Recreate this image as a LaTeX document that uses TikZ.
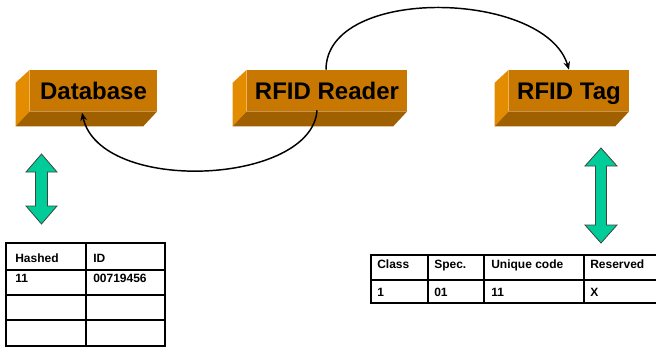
\documentclass[tikz,border=0pt]{standalone}
\usepackage{fontspec}
\setmainfont{Liberation Sans}
\usetikzlibrary{arrows.meta}
\definecolor{frontc}{RGB}{200,120,0}
\definecolor{leftc}{RGB}{228,140,0}
\definecolor{botc}{RGB}{160,96,0}
\definecolor{greenc}{RGB}{0,204,153}
\definecolor{greenline}{RGB}{60,70,60}
\begin{document}
\begin{tikzpicture}[x=0.75pt,y=-0.75pt,
  frontface/.style={fill=frontc, inner sep=0pt, minimum height=41*0.75pt,
    text height=13pt, text depth=0pt, font=\bfseries\fontsize{18}{20}\selectfont},
  leftface/.style={fill=leftc},
  botface/.style={fill=botc},
  conn/.style={line width=1.1pt, -{Stealth[length=6pt,width=5pt]}},
  greenarrow/.style={fill=greenc, draw=greenline, line width=0.6pt, line join=miter},
  outer/.style={line width=2pt},
  inner/.style={line width=0.9pt},
  cell/.style={anchor=base west, inner sep=0pt, font=\bfseries\fontsize{9}{10}\selectfont}
]
\useasboundingbox (0,0) rectangle (656,347);

% 3D boxes
\node[frontface, minimum width=127*0.75pt] (db) at (93.5,90.5) {Database};
\node[frontface, minimum width=160*0.75pt] (rd) at (327,90.5) {RFID Reader};
\node[frontface, minimum width=120*0.75pt] (tg) at (569,90.5) {RFID Tag};
\foreach \n in {db,rd,tg}{
  \fill[leftface] ([shift={(-14,13)}]\n.north west) -- (\n.north west) -- (\n.south west)
     -- ([shift={(-14,15)}]\n.south west) -- cycle;
  \fill[botface] (\n.south west) -- (\n.south east) -- ([shift={(-14,15)}]\n.south east)
     -- ([shift={(-14,15)}]\n.south west) -- cycle;
}

% green double arrows
\path[greenarrow] (41.5,154) -- (57,172) -- (47.5,172) -- (47.5,206) -- (57,206) -- (41.5,224)
  -- (26,206) -- (35.5,206) -- (35.5,172) -- (26,172) -- cycle;
\path[greenarrow] (601,148) -- (617,166) -- (606.5,166) -- (606.5,225) -- (617,225) -- (601,243)
  -- (585,225) -- (595.5,225) -- (595.5,166) -- (585,166) -- cycle;

% table 1 (database)
\draw[inner] (6,270) -- (165,270) (6,295) -- (165,295) (6,320) -- (165,320) (86,243) -- (86,346);
\draw[outer] (6,243) rectangle (165,346);
\node[cell] (h1) at (15,262) {Hashed};
\node[cell] (h2) at (93,262) {ID};
\node[cell] (v1) at (15,282.5) {11};
\node[cell] (v2) at (93,282.5) {00719456};

% table 2 (tag)
\draw[inner] (371,280) -- (662,280) (428,255) -- (428,303) (484,255) -- (484,303) (584,255) -- (584,303);
\draw[outer] (371,255) rectangle (662,303);
\node[cell] (c1) at (377,268) {Class};
\node[cell] (c2) at (434,268) {Spec.};
\node[cell] (c3) at (491,268) {Unique code};
\node[cell] (c4) at (590,268) {Reserved};
\node[cell] (d1) at (377,296) {1};
\node[cell] (d2) at (434,296) {01};
\node[cell] (d3) at (491,296) {11};
\node[cell] (d4) at (590,296) {X};

% connectors
\draw[conn] ([shift={(-10,-1)}]rd.south) .. controls (312,185) and (100,195) .. ([shift={(-11.5,1.5)}]db.south);
\draw[conn] ([shift={(-1,0)}]rd.north) .. controls (326,-15) and (545,-10) .. (tg.north);
\end{tikzpicture}
\end{document}
